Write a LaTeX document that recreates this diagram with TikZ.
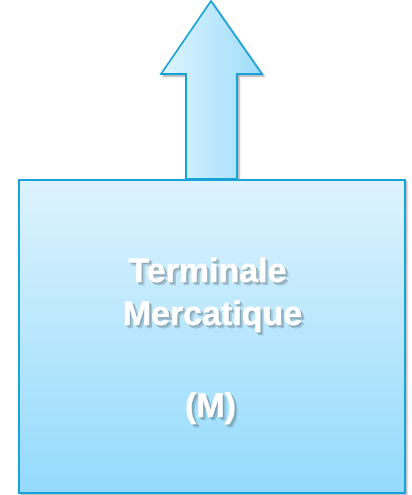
\documentclass[tikz,border=0pt]{standalone}
\usepackage{fontspec}
\setmainfont[BoldFeatures={FakeBold=1.2}]{Liberation Sans}
\usetikzlibrary{shadows.blur}
\definecolor{edge}{HTML}{17A3DA}
\definecolor{boxtop}{HTML}{DDF3FD}
\definecolor{boxbot}{HTML}{94DAFC}
\definecolor{arrleft}{HTML}{DDF3FD}
\definecolor{arrright}{HTML}{9EDDFB}
\tikzset{
  panel/.style={draw=edge, line width=1.6pt, top color=boxtop, bottom color=boxbot,
    blur shadow={shadow xshift=2pt, shadow yshift=-2pt, shadow blur steps=5, shadow opacity=40}},
  uparrow/.style={draw=edge, line width=1.6pt, left color=arrleft, right color=arrright,
    blur shadow={shadow xshift=2pt, shadow yshift=-2pt, shadow blur steps=5, shadow opacity=40}},
  label/.style={font=\fontsize{34}{40}\selectfont\bfseries, text=white, inner sep=0pt, anchor=base},
  shade/.style={label, text=black, opacity=0.13}
}
\begin{document}
\begin{tikzpicture}[x=1pt,y=-1pt]
\useasboundingbox (0,0) rectangle (412,495);
% block arrow
\draw[uparrow] (211,1) -- (262,74) -- (237,74) -- (237,179) -- (186,179) -- (186,74) -- (161,74) -- cycle;
% box
\node[panel, minimum width=386pt, minimum height=313pt, inner sep=0pt, anchor=north west] (box) at (18,179) {};
% text shadows
\foreach \dx/\dy in {1.5/1.5,3/3}{
  \node[shade] at (207.5+\dx,282+\dy) {Terminale};
  \node[shade] at (212.5+\dx,325+\dy) {Mercatique};
  \node[shade] at (210.5+\dx,417+\dy) {(M)};
}
\node[label] (l1) at (207.5,282) {Terminale};
\node[label] (l2) at (212.5,325) {Mercatique};
\node[label] (l3) at (210.5,417) {(M)};
\end{tikzpicture}
\end{document}
